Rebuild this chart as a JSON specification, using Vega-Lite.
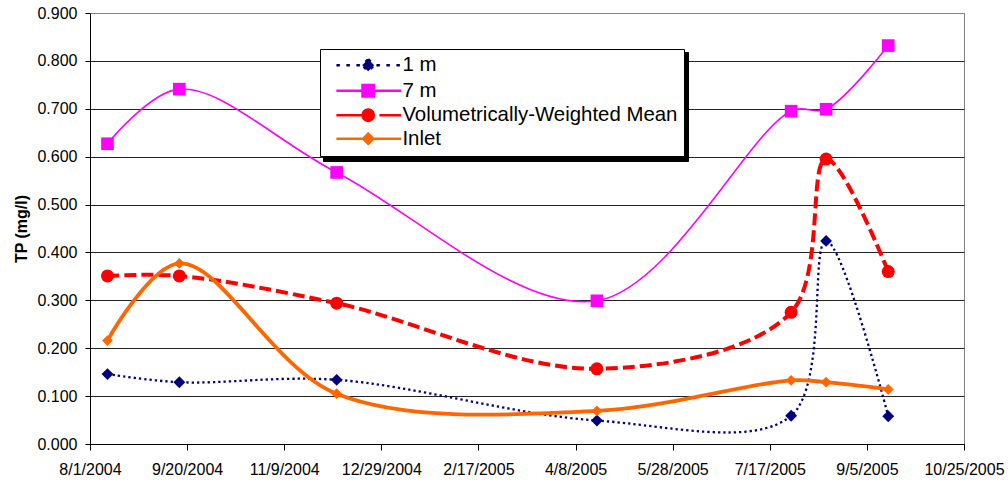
{
  "$schema": "https://vega.github.io/schema/vega-lite/v6.json",
  "width": 874,
  "height": 431,
  "autosize": {"type": "none"},
  "padding": {"left": 90, "top": 13, "right": 44, "bottom": 39},
  "background": "white",
  "config": {
    "font": "Liberation Sans",
    "view": {"stroke": "#808080", "strokeWidth": 1}
  },
  "data": {
    "values": [
      {"date": "2004/08/10", "series": "1 m", "tp": 0.146},
      {"date": "2004/09/16", "series": "1 m", "tp": 0.129},
      {"date": "2004/12/06", "series": "1 m", "tp": 0.134},
      {"date": "2005/04/19", "series": "1 m", "tp": 0.049},
      {"date": "2005/07/28", "series": "1 m", "tp": 0.059},
      {"date": "2005/08/15", "series": "1 m", "tp": 0.424},
      {"date": "2005/09/16", "series": "1 m", "tp": 0.058},
      {"date": "2004/08/10", "series": "7 m", "tp": 0.627},
      {"date": "2004/09/16", "series": "7 m", "tp": 0.741},
      {"date": "2004/12/06", "series": "7 m", "tp": 0.567},
      {"date": "2005/04/19", "series": "7 m", "tp": 0.299},
      {"date": "2005/07/28", "series": "7 m", "tp": 0.695},
      {"date": "2005/08/15", "series": "7 m", "tp": 0.699},
      {"date": "2005/09/16", "series": "7 m", "tp": 0.832},
      {"date": "2004/08/10", "series": "Volumetrically-Weighted Mean", "tp": 0.351},
      {"date": "2004/09/16", "series": "Volumetrically-Weighted Mean", "tp": 0.351},
      {"date": "2004/12/06", "series": "Volumetrically-Weighted Mean", "tp": 0.294},
      {"date": "2005/04/19", "series": "Volumetrically-Weighted Mean", "tp": 0.157},
      {"date": "2005/07/28", "series": "Volumetrically-Weighted Mean", "tp": 0.275},
      {"date": "2005/08/15", "series": "Volumetrically-Weighted Mean", "tp": 0.595},
      {"date": "2005/09/16", "series": "Volumetrically-Weighted Mean", "tp": 0.360},
      {"date": "2004/08/10", "series": "Inlet", "tp": 0.216},
      {"date": "2004/09/16", "series": "Inlet", "tp": 0.377},
      {"date": "2004/12/06", "series": "Inlet", "tp": 0.105},
      {"date": "2005/04/19", "series": "Inlet", "tp": 0.069},
      {"date": "2005/07/28", "series": "Inlet", "tp": 0.133},
      {"date": "2005/08/15", "series": "Inlet", "tp": 0.129},
      {"date": "2005/09/16", "series": "Inlet", "tp": 0.114}
    ]
  },
  "encoding": {
    "x": {
      "field": "date",
      "type": "temporal",
      "scale": {"domain": [{"year": 2004, "month": 8, "date": 1}, {"year": 2005, "month": 10, "date": 25}]},
      "axis": {
        "title": null,
        "grid": false,
        "values": [
          {"year": 2004, "month": 8, "date": 1},
          {"year": 2004, "month": 9, "date": 20},
          {"year": 2004, "month": 11, "date": 9},
          {"year": 2004, "month": 12, "date": 29},
          {"year": 2005, "month": 2, "date": 17},
          {"year": 2005, "month": 4, "date": 8},
          {"year": 2005, "month": 5, "date": 28},
          {"year": 2005, "month": 7, "date": 17},
          {"year": 2005, "month": 9, "date": 5},
          {"year": 2005, "month": 10, "date": 25}
        ],
        "format": "%-m/%-d/%Y",
        "labelFontSize": 16,
        "labelColor": "black",
        "labelPadding": 11,
        "labelFlush": false,
        "labelOverlap": false,
        "tickSize": 6,
        "tickColor": "black",
        "domainColor": "black"
      }
    },
    "y": {
      "field": "tp",
      "type": "quantitative",
      "scale": {"domain": [0, 0.9], "nice": false},
      "axis": {
        "title": "TP (mg/l)",
        "titleFontSize": 16,
        "titleFontWeight": "bold",
        "titleColor": "black",
        "titlePadding": 7,
        "values": [0, 0.1, 0.2, 0.3, 0.4, 0.5, 0.6, 0.7, 0.8, 0.9],
        "format": ".3f",
        "labelFontSize": 16,
        "labelColor": "black",
        "labelPadding": 8,
        "tickSize": 5,
        "tickColor": "black",
        "domainColor": "black",
        "gridColor": {"condition": {"test": "datum.value >= 0.899", "value": "#808080"}, "value": "#222222"},
        "gridOpacity": 1
      }
    }
  },
  "layer": [
    {
      "transform": [{"filter": "datum.series === '1 m'"}],
      "mark": {"type": "line", "interpolate": "catmull-rom", "color": "#000080", "strokeWidth": 2.3, "strokeDash": [2.3, 3],
        "point": {"filled": true, "shape": "diamond", "size": 140, "color": "#000080", "opacity": 1}}
    },
    {
      "transform": [{"filter": "datum.series === '7 m'"}],
      "mark": {"type": "line", "interpolate": "catmull-rom", "color": "#FF00FF", "strokeWidth": 1.6,
        "point": {"filled": true, "shape": "square", "size": 160, "color": "#FF00FF", "opacity": 1}}
    },
    {
      "transform": [{"filter": "datum.series === 'Volumetrically-Weighted Mean'"}],
      "mark": {"type": "line", "interpolate": "catmull-rom", "color": "#FF0000", "strokeWidth": 4, "strokeDash": [12, 5],
        "point": {"filled": true, "shape": "circle", "size": 169, "color": "#FF0000", "opacity": 1}}
    },
    {
      "transform": [{"filter": "datum.series === 'Inlet'"}],
      "mark": {"type": "line", "interpolate": "catmull-rom", "color": "#FF6600", "strokeWidth": 3.8,
        "point": {"filled": true, "shape": "diamond", "size": 115, "color": "#FF6600", "opacity": 1}}
    },
    {
      "transform": [{"filter": "datum.tp < 0"}],
      "mark": {"type": "point", "filled": true},
      "encoding": {
        "fill": {
          "field": "series", "type": "nominal",
          "scale": {"domain": ["1 m", "7 m", "Volumetrically-Weighted Mean", "Inlet"], "range": ["#000080", "#FF00FF", "#FF0000", "#FF6600"]},
          "legend": {"title": null, "orient": "none", "legendX": 230, "legendY": 36, "zindex": 1, "fillColor": "white", "strokeColor": "black", "padding": 6, "labelFontSize": 20.4, "labelColor": "black", "labelLimit": 500, "symbolSize": 144, "symbolStrokeWidth": 2.5, "symbolOpacity": 1, "symbolOffset": 32, "labelOffset": 24, "rowPadding": 2.5}
        },
        "stroke": {
          "field": "series", "type": "nominal",
          "scale": {"domain": ["1 m", "7 m", "Volumetrically-Weighted Mean", "Inlet"], "range": ["#000080", "#FF00FF", "#FF0000", "#FF6600"]},
          "legend": {"title": null, "orient": "none", "legendX": 230, "legendY": 36, "zindex": 1, "fillColor": "white", "strokeColor": "black", "padding": 6, "labelFontSize": 20.4, "labelColor": "black", "labelLimit": 500, "symbolSize": 144, "symbolStrokeWidth": 2.5, "symbolOpacity": 1, "symbolOffset": 32, "labelOffset": 24, "rowPadding": 2.5}
        },
        "shape": {
          "field": "series", "type": "nominal",
          "scale": {"domain": ["1 m", "7 m", "Volumetrically-Weighted Mean", "Inlet"], "range": [
            "M-5.3,0L5.5,0M0,-1L1,0L0,1L-1,0Z",
            "M-5.3,0L5.5,0M-0.95,-0.95L0.95,-0.95L0.95,0.95L-0.95,0.95Z",
            "M-5.3,0L5.5,0M-0.95,0A0.95,0.95,0,1,1,0.95,0A0.95,0.95,0,1,1,-0.95,0Z",
            "M-5.3,0L5.5,0M0,-0.85L0.85,0L0,0.85L-0.85,0Z"
          ]},
          "legend": {"title": null, "orient": "none", "legendX": 230, "legendY": 36, "zindex": 1, "fillColor": "white", "strokeColor": "black", "padding": 6, "labelFontSize": 20.4, "labelColor": "black", "labelLimit": 500, "symbolSize": 144, "symbolStrokeWidth": 2.5, "symbolOpacity": 1, "symbolOffset": 32, "labelOffset": 24, "rowPadding": 2.5}
        },
        "strokeDash": {
          "field": "series", "type": "nominal",
          "scale": {"domain": ["1 m", "7 m", "Volumetrically-Weighted Mean", "Inlet"], "range": [[3.5, 6.5], [1, 0], [37, 6], [1, 0]]},
          "legend": {"title": null, "orient": "none", "legendX": 230, "legendY": 36, "zindex": 1, "fillColor": "white", "strokeColor": "black", "padding": 6, "labelFontSize": 20.4, "labelColor": "black", "labelLimit": 500, "symbolSize": 144, "symbolStrokeWidth": 2.5, "symbolOpacity": 1, "symbolOffset": 32, "labelOffset": 24, "rowPadding": 2.5}
        }
      }
    },
    {
      "transform": [{"filter": "datum.tp < 0"}],
      "mark": {"type": "point", "filled": true},
      "encoding": {
        "size": {
          "field": "series", "type": "ordinal",
          "scale": {"domain": ["Volumetrically-Weighted Mean", "1 m", "7 m", "Inlet"], "range": [144, 144, 144, 144]},
          "legend": {"title": null, "orient": "none", "legendX": 233, "legendY": 39, "zindex": 0, "fillColor": "black", "strokeColor": "black", "padding": 6, "labelFontSize": 20.4, "labelColor": "black", "labelLimit": 500, "labelExpr": "''", "symbolStrokeWidth": 2.5, "symbolOpacity": 0, "symbolOffset": 32, "labelOffset": 300, "rowPadding": 4.3}
        }
      }
    }
  ]
}
